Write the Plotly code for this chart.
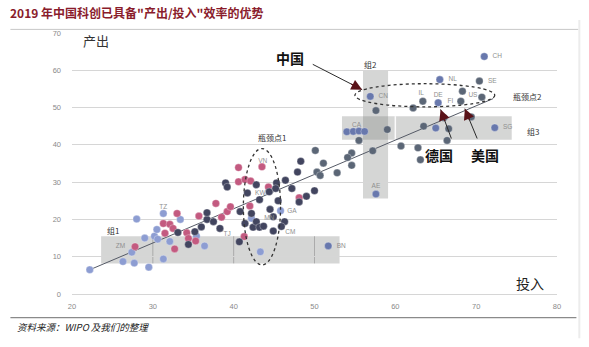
import math
import plotly.graph_objects as go

# ---------------- data ----------------
x_ticks = [20, 30, 40, 50, 60, 70, 80]
y_ticks = [0, 10, 20, 30, 40, 50, 60, 70]

# 低收入
low_x = [22.2, 26.3, 27.7, 29.5, 31.3, 27.4, 29.0, 30.2, 30.6, 30.5, 28.0, 31.3, 33.4, 32.1, 35.4, 36.4, 43.3, 42.2, 45.8]
low_y = [6.5, 8.7, 8.3, 7.2, 9.4, 11.2, 15.0, 15.5, 14.7, 17.3, 20.1, 21.6, 20.0, 14.1, 15.5, 12.9, 11.3, 20.3, 22.3]

# 中低收入
lm_x = [27.8, 31.3, 31.5, 32.1, 32.5, 33.0, 32.7, 34.2, 34.4, 35.3, 35.7, 37.8, 38.5, 39.2, 39.6, 40.6, 40.6, 41.4, 42.1, 43.5, 42.0, 41.3, 44.3, 48.1]
lm_y = [12.7, 18.9, 16.3, 18.7, 17.6, 21.6, 12.1, 16.4, 14.9, 14.2, 20.9, 24.3, 20.6, 22.1, 23.4, 33.9, 30.1, 30.7, 30.3, 34.1, 23.6, 15.4, 28.7, 25.8]

# 中高收入
um_x = [33.1, 34.4, 35.2, 36.0, 36.7, 36.7, 37.5, 38.3, 39.0, 39.2, 42.8, 40.8, 41.7, 42.2, 41.4, 42.4, 42.8, 43.2, 43.7, 43.2,
        40.7, 44.4, 45.3, 45.2, 45.5, 44.5, 44.9, 46.3, 45.9, 44.9, 46.4, 47.2, 47.9, 48.3, 48.1, 49.0, 50.0]
um_y = [16.5, 13.3, 16.7, 18.0, 20.0, 21.8, 19.4, 17.6, 29.8, 28.7, 29.3, 22.1, 27.1, 21.6, 18.9, 17.9, 19.4, 17.9, 18.2, 25.3,
        14.0, 27.4, 29.8, 28.3, 25.0, 22.7, 20.7, 19.4, 18.1, 16.9, 30.5, 28.3, 32.7, 35.6, 24.7, 26.2, 27.7]

# 高收入
hi_x = [50.1, 51.1, 54.6, 54.1, 54.6, 57.2, 60.7, 62.8, 63.1, 50.3, 50.7, 52.8, 55.5, 59.0, 63.5, 66.6, 66.4,
        68.3, 63.4, 68.1, 70.7, 62.2, 57.6, 69.4, 66.0, 70.4]
hi_y = [38.5, 35.1, 37.8, 36.6, 34.5, 38.4, 39.7, 39.2, 36.0, 32.7, 31.8, 32.5, 41.2, 44.1, 45.0, 44.3, 41.2,
        54.4, 51.7, 51.7, 52.8, 49.9, 49.2, 47.5, 47.3, 57.1]

# 标注国家（蓝色）
hl_x = [56.9, 65.3, 65.5, 71.0, 72.3, 54.0, 54.8, 55.5, 56.2, 65.0, 57.6, 51.7]
hl_y = [53.0, 51.3, 57.5, 63.7, 44.6, 43.5, 43.6, 43.7, 43.6, 44.5, 26.8, 12.9]

# 国家代码标签
lab_text = ["CH", "NL", "SE", "CN", "IL", "DE", "FI", "US", "CA", "SG", "AE", "BN", "ZM", "TZ", "VN", "KW", "GA", "MN", "CM", "TJ"]
lab_x = [72.6, 67.1, 72.0, 58.5, 63.2, 65.3, 66.8, 69.6, 55.2, 73.9, 57.6, 53.3, 26.0, 31.3, 43.6, 43.3, 47.2, 44.4, 47.0, 39.2]
lab_y = [63.7, 57.5, 57.1, 53.0, 53.9, 53.4, 51.7, 53.2, 45.3, 44.6, 28.8, 12.9, 12.7, 23.3, 35.6, 27.1, 22.2, 20.2, 16.5, 16.0]

# 拟合线
trend_x = [22.2, 72.1]
trend_y = [6.5, 52.4]

# 分组区域 (x0, x1, y0, y1)
groups = {"组1": (23.6, 53.1, 8.2, 15.5), "组2": (56.0, 59.1, 25.6, 60.0), "组3": (53.4, 74.4, 41.4, 47.7)}
# 瓶颈椭圆 (x0, x1, y0, y1)
necks = {"瓶颈点1": (41.2, 45.8, 7.8, 39.0), "瓶颈点2": (55.0, 72.3, 50.2, 56.4)}

# ---------------- figure ----------------
fig = go.Figure()

fig.add_trace(go.Scatter(x=trend_x, y=trend_y, mode="lines",
                         line=dict(color="#555a66", width=1), hoverinfo="skip"))

def dots(xs, ys, color):
    fig.add_trace(go.Scatter(x=xs, y=ys, mode="markers",
                             marker=dict(size=7.5, color=color, line=dict(color="rgba(255,255,255,0.6)", width=0.5))))

dots(low_x, low_y, "#8d9dd2")
dots(lm_x, lm_y, "#c35a80")
dots(um_x, um_y, "#42455f")
dots(hi_x, hi_y, "#5b6676")
dots(hl_x, hl_y, "#6878ad")

fig.add_trace(go.Scatter(x=lab_x, y=lab_y, mode="text", text=lab_text,
                         textfont=dict(size=6.5, color="#8f8f8f", family="Liberation Sans")))

shapes = []
for name, (x0, x1, y0, y1) in groups.items():
    shapes.append(dict(type="rect", xref="x", yref="y", x0=x0, x1=x1, y0=y0, y1=y1,
                       fillcolor="rgba(125,128,125,0.32)", line=dict(width=0), layer="below"))
# dividers inside 组1 and 组3
g1 = groups["组1"]
for xv in [30, 40, 50]:
    shapes.append(dict(type="line", xref="x", yref="y", x0=xv, x1=xv, y0=g1[2], y1=g1[3],
                       line=dict(color="rgba(120,120,120,0.45)", width=1), layer="below"))
g3 = groups["组3"]
shapes.append(dict(type="line", xref="x", yref="y", x0=60, x1=60, y0=g3[2], y1=g3[3],
                   line=dict(color="rgba(255,255,255,0.9)", width=1.5), layer="below"))
for name, (x0, x1, y0, y1) in necks.items():
    shapes.append(dict(type="circle", xref="x", yref="y", x0=x0, x1=x1, y0=y0, y1=y1,
                       line=dict(color="#333333", width=1.3, dash="dot"), layer="above"))
# title separator, bottom rule, right edge
shapes.append(dict(type="line", xref="paper", yref="paper", x0=-0.127, x1=1.044, y0=1.0138, y1=1.0138,
                   line=dict(color="#c8c8c8", width=1)))
shapes.append(dict(type="line", xref="paper", yref="paper", x0=-0.127, x1=1.04, y0=-0.0907, y1=-0.0907,
                   line=dict(color="#8a8a8a", width=1.2)))
shapes.append(dict(type="line", xref="paper", yref="paper", x0=1.046, x1=1.046, y0=-0.17, y1=1.05,
                   line=dict(color="#ececec", width=2)))

ann = []
ann.append(dict(xref="paper", yref="paper", x=-0.131, y=1.079, xanchor="left", yanchor="middle", showarrow=False,
                text="2019 年中国科创已具备\"产出/投入\"效率的优势",
                font=dict(size=12, color="#8a1c2c", family="Noto Sans CJK SC", weight="bold")))
ann.append(dict(xref="paper", yref="paper", x=-0.117, y=-0.126, xanchor="left", yanchor="middle", showarrow=False,
                text="资料来源：WIPO 及我们的整理",
                font=dict(size=9.5, color="#222222", family="Noto Sans CJK SC", style="italic")))
ann.append(dict(x=23.0, y=68.0, text="产出", showarrow=False, font=dict(size=13, color="#333333", family="Noto Sans CJK SC")))
ann.append(dict(x=76.6, y=2.9, text="投入", showarrow=False, font=dict(size=14, color="#222222", family="Noto Sans CJK SC")))
for t, x, y in [("中国", 47.0, 63.2), ("德国", 65.4, 37.2), ("美国", 71.1, 37.2)]:
    ann.append(dict(x=x, y=y, text=t, showarrow=False,
                    font=dict(size=14, color="#111111", family="Noto Sans CJK SC", weight="bold")))
for t, x, y in [("组1", 25.1, 17.1), ("组2", 56.9, 61.6), ("组3", 77.0, 43.7), ("瓶颈点1", 44.7, 42.1), ("瓶颈点2", 76.3, 53.0)]:
    ann.append(dict(x=x, y=y, text=t, showarrow=False, font=dict(size=8, color="#333333", family="Noto Sans CJK SC")))

# arrows: (tail x, tail y, head x, head y)
PX_X, PX_Y = 8.09, 3.733  # pixels per data unit
arrows = [(49.6, 61.8, 55.9, 54.8), (67.0, 41.3, 65.6, 49.5), (70.2, 41.3, 68.6, 49.7)]
for tx, ty, hx, hy in arrows:
    ann.append(dict(x=hx, y=hy, ax=tx, ay=ty, axref="x", ayref="y", text="", showarrow=True,
                    arrowhead=0, arrowwidth=1, arrowcolor="#2a2a2a"))
    dxp, dyp = (tx - hx) * PX_X, -(ty - hy) * PX_Y
    n = math.hypot(dxp, dyp)
    ann.append(dict(x=hx, y=hy, ax=dxp / n * 14, ay=dyp / n * 14, text="", showarrow=True,
                    arrowhead=2, arrowsize=1.8, arrowwidth=1.2, arrowcolor="#5a1218"))

fig.update_layout(
    width=589, height=347, autosize=False,
    margin=dict(l=72, r=32, t=33, b=53),
    paper_bgcolor="white", plot_bgcolor="white",
    showlegend=False, shapes=shapes, annotations=ann,
    font=dict(family="Liberation Sans"),
    xaxis=dict(range=[20, 80], tickvals=x_ticks, ticktext=[str(v) for v in x_ticks], showgrid=False,
               zeroline=False, showline=False, ticks="", tickfont=dict(size=7.5, color="#8a8a8a"),
               ticklabelstandoff=6),
    yaxis=dict(range=[0, 70], tickvals=y_ticks, ticktext=[str(v) for v in y_ticks], showgrid=True,
               gridcolor="#d6d6d6", gridwidth=1, zeroline=True, zerolinecolor="#d6d6d6", zerolinewidth=1,
               showline=False, ticks="", tickfont=dict(size=7.5, color="#8a8a8a"), ticklabelstandoff=10),
)

fig.write_html("out.html")
